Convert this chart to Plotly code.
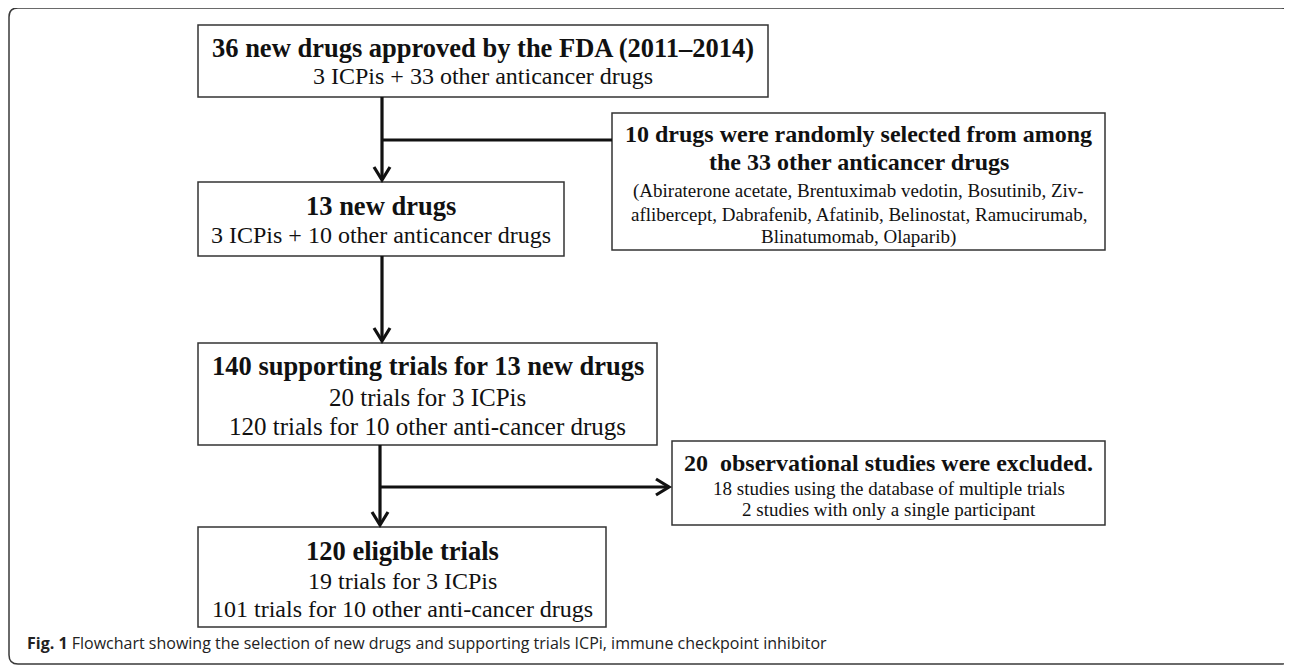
import plotly.graph_objects as go

# ---- text content (data) ----
top_title = ["36 new drugs approved by the FDA (2011–2014)"]
top_lines = ["3 ICPis + 33 other anticancer drugs"]
side1_title = ["10 drugs were randomly selected from among", "the 33 other anticancer drugs"]
side1_lines = ["(Abiraterone acetate, Brentuximab vedotin, Bosutinib, Ziv-",
               "aflibercept, Dabrafenib, Afatinib, Belinostat, Ramucirumab,",
               "Blinatumomab, Olaparib)"]
box2_title = ["13 new drugs"]
box2_lines = ["3 ICPis + 10 other anticancer drugs"]
box3_title = ["140 supporting trials for 13 new drugs"]
box3_lines = ["20 trials for 3 ICPis", "120 trials for 10 other anti-cancer drugs"]
side2_title = ["20\u00a0 observational studies were excluded."]
side2_lines = ["18 studies using the database of multiple trials",
               "2 studies with only a single participant"]
box4_title = ["120 eligible trials"]
box4_lines = ["19 trials for 3 ICPis", "101 trials for 10 other anti-cancer drugs"]
caption_bold = "Fig. 1"
caption_text = "Flowchart showing the selection of new drugs and supporting trials ICPi, immune checkpoint inhibitor"

W, H = 1292, 672
OFF = 8  # page body margin of the html page
SERIF = "Liberation Serif, Times New Roman, serif"

# ---- layout geometry ----
nodes = [
    # (x0, x1, y0, y1, title lines, sub lines, title y's, sub y's, title size, sub size)
    (198, 768, 25, 97, top_title, top_lines, [48], [76], 26.5, 24),
    (612, 1105, 113, 250, side1_title, side1_lines, [134, 162], [191, 214, 237], 24, 19),
    (198, 564, 182, 256, box2_title, box2_lines, [206], [235], 26.5, 24),
    (198, 657, 343, 445, box3_title, box3_lines, [366], [397, 426], 26.5, 25),
    (672, 1105, 441, 525, side2_title, side2_lines, [463], [488, 509], 24, 19),
    (198, 606, 527, 627, box4_title, box4_lines, [551], [581, 609], 26.5, 24),
]

fig = go.Figure()
fig.add_trace(go.Scatter(x=[OFF, W], y=[OFF, H], mode="markers",
                         marker=dict(opacity=0), hoverinfo="skip", showlegend=False))

shapes = []
annotations = []

# outer rounded frame
r = 9
fx0, fx1, fy0, fy1 = 9, 1290, 8, 664
frame_path = (f"M {fx0+r} {fy0} L {fx1-r} {fy0} Q {fx1} {fy0} {fx1} {fy0+r} "
              f"L {fx1} {fy1-r} Q {fx1} {fy1} {fx1-r} {fy1} L {fx0+r} {fy1} "
              f"Q {fx0} {fy1} {fx0} {fy1-r} L {fx0} {fy0+r} Q {fx0} {fy0} {fx0+r} {fy0} Z")
shapes.append(dict(type="path", path=frame_path, xref="x", yref="y",
                   line=dict(color="#3a3a3a", width=1.5)))

for (x0, x1, y0, y1, tl, sl, ty, sy, ts, ss) in nodes:
    shapes.append(dict(type="rect", x0=x0, x1=x1, y0=y0, y1=y1, xref="x", yref="y",
                       line=dict(color="#333333", width=1.5), fillcolor="white"))
    cx = (x0 + x1) / 2
    for t, yy in zip(tl, ty):
        annotations.append(dict(x=cx, y=yy, xref="x", yref="y", text=f"<b>{t}</b>",
                                showarrow=False, xanchor="center", yanchor="middle",
                                font=dict(family=SERIF, size=ts, color="#111111")))
    for t, yy in zip(sl, sy):
        annotations.append(dict(x=cx, y=yy, xref="x", yref="y", text=t,
                                showarrow=False, xanchor="center", yanchor="middle",
                                font=dict(family=SERIF, size=ss, color="#111111")))

LW = 3.2
LC = "#111111"

def seg(xa, ya, xb, yb):
    shapes.append(dict(type="line", x0=xa, y0=ya, x1=xb, y1=yb, xref="x", yref="y",
                       line=dict(color=LC, width=LW)))

def head_down(x, y):
    shapes.append(dict(type="path", path=f"M {x-8} {y-13} L {x} {y} L {x+8} {y-13}",
                       xref="x", yref="y", line=dict(color=LC, width=LW)))

def head_right(x, y):
    shapes.append(dict(type="path", path=f"M {x-13} {y-8} L {x} {y} L {x-13} {y+8}",
                       xref="x", yref="y", line=dict(color=LC, width=LW)))

ax = 382
# top box -> box2
seg(ax, 97, ax, 180)
head_down(ax, 180)
seg(ax, 140, 612, 140)
# box2 -> box3
seg(ax, 256, ax, 341)
head_down(ax, 341)
# box3 -> box4
ax2 = 380
seg(ax2, 445, ax2, 525)
head_down(ax2, 525)
seg(ax2, 487, 669, 487)
head_right(669, 487)

annotations.append(dict(x=25, y=643, xref="x", yref="y",
                        text=f"<b>{caption_bold}</b> {caption_text}",
                        showarrow=False, xanchor="left", yanchor="middle",
                        font=dict(family="Open Sans, Noto Sans, sans-serif", size=16, color="#222222")))

fig.update_layout(
    width=W, height=H, margin=dict(l=0, r=0, t=0, b=0),
    paper_bgcolor="white", plot_bgcolor="white",
    xaxis=dict(range=[OFF, W + OFF], visible=False, fixedrange=True),
    yaxis=dict(range=[H + OFF, OFF], visible=False, fixedrange=True),
    shapes=shapes, annotations=annotations, showlegend=False,
)

fig.write_html("out.html")
